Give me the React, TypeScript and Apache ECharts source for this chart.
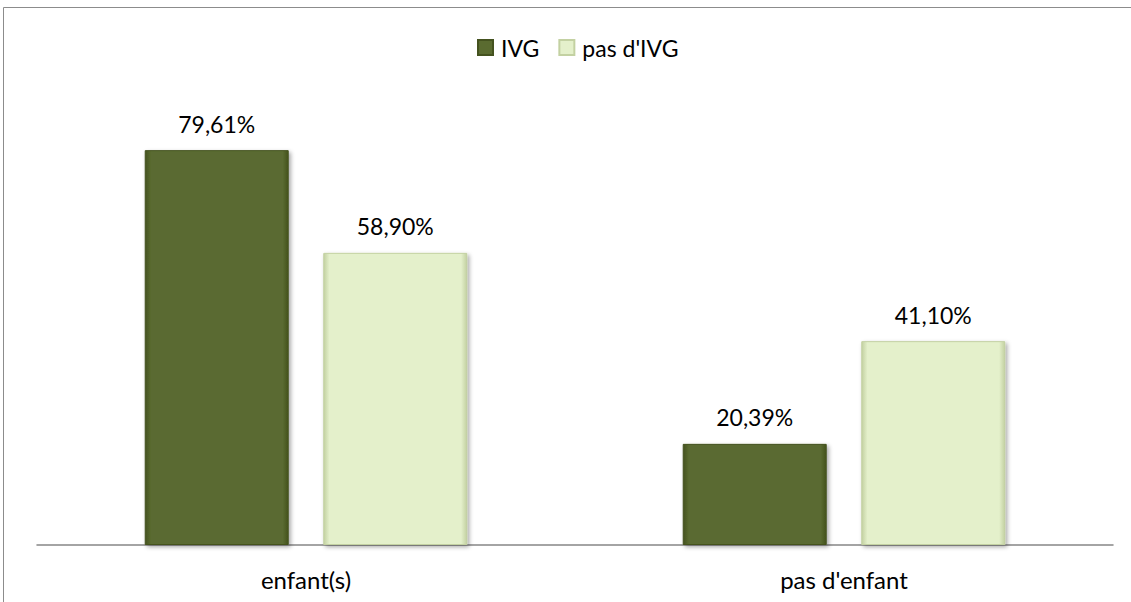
import React, { useEffect, useRef } from "react";
import * as echarts from "echarts";

const categories = ["enfant(s)", "pas d'enfant"];
const seriesNames = ["IVG", "pas d'IVG"];
const ivgValues = [79.61, 20.39];
const pasIvgValues = [58.9, 41.1];

const FONT = "Lato, 'Open Sans', 'Liberation Sans', sans-serif";

const fmt = (v: number) => v.toFixed(2).replace(".", ",") + "%";

export default function App() {
  const ref = useRef<HTMLDivElement>(null);
  useEffect(() => {
    if (!ref.current) return;
    const chart = echarts.init(ref.current, null, { renderer: "svg" });
    const barStyle = (color: string, border: string) => ({
      color: new echarts.graphic.LinearGradient(0, 0, 1, 0, [
        { offset: 0, color: border },
        { offset: 0.04, color },
        { offset: 0.96, color },
        { offset: 1, color: border },
      ]),
      borderColor: border,
      borderWidth: 1,
      shadowBlur: 4,
      shadowColor: "rgba(0,0,0,0.35)",
      shadowOffsetX: 2,
      shadowOffsetY: 2,
    });
    const labelCfg = {
      show: true,
      position: "top",
      distance: 15,
      fontFamily: FONT,
      fontSize: 23,
      color: "#000",
      formatter: (p: any) => fmt(p.value),
    };
    chart.setOption({
      animation: false,
      backgroundColor: "#ffffff",
      graphic: [
        {
          type: "rect",
          shape: { x: 3.5, y: 7.5, width: 1200, height: 700 },
          style: { fill: "none", stroke: "#8c8c8c", lineWidth: 1 },
          silent: true,
        },
      ],
      legend: {
        top: 31,
        left: 472,
        itemWidth: 15,
        itemHeight: 15,
        itemGap: 19,
        icon: "rect",
        textStyle: { fontFamily: FONT, fontSize: 23, color: "#000", padding: [0, 0, 0, 3] },
        data: seriesNames,
      },
      grid: { left: 37, right: 18, top: 49, bottom: 57, containLabel: false },
      xAxis: {
        type: "category",
        data: categories,
        axisLine: { lineStyle: { color: "#868686", width: 1.5 } },
        axisTick: { show: false },
        axisLabel: {
          fontFamily: FONT,
          fontSize: 24,
          color: "#000",
          margin: 22,
        },
      },
      yAxis: {
        type: "value",
        min: 0,
        max: 100,
        show: false,
        splitLine: { show: false },
      },
      series: [
        {
          name: seriesNames[0],
          type: "bar",
          data: ivgValues,
          barWidth: 144,
          barGap: "24%",
          itemStyle: barStyle("#5a6b30", "#44521f"),
          label: labelCfg,
        },
        {
          name: seriesNames[1],
          type: "bar",
          data: pasIvgValues,
          barWidth: 144,
          itemStyle: barStyle("#e4f0cb", "#c3d1a2"),
          label: labelCfg,
        },
      ],
    });
    return () => chart.dispose();
  }, []);
  return (
    <div
      ref={ref}
      style={{ position: "fixed", left: 0, top: 0, width: 1131, height: 602 }}
    />
  );
}
